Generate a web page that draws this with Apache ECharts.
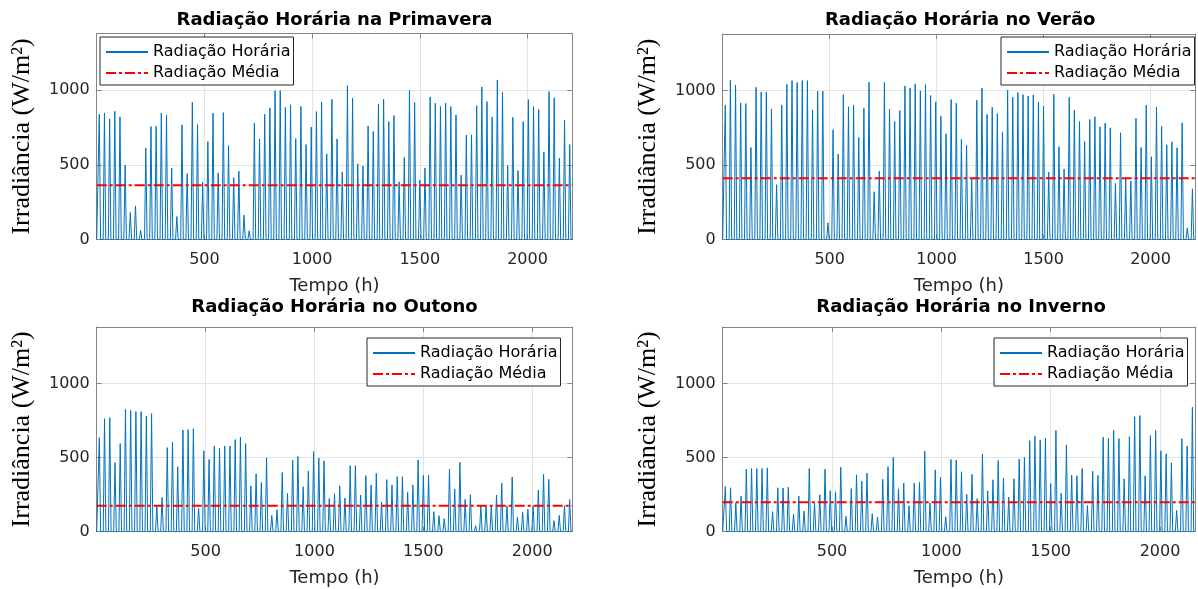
<!DOCTYPE html>
<html>
<head>
<meta charset="utf-8">
<script src="https://cdn.jsdelivr.net/npm/echarts@6/dist/echarts.min.js"></script>
<style>
  html, body { margin: 0; padding: 0; background: #fff; }
  #chart { width: 1198px; height: 589px; }
</style>
</head>
<body>
<div id="chart"></div>
<script>
// Panel titles
const titles = [
  'Radiação Horária na Primavera',
  'Radiação Horária no Verão',
  'Radiação Horária no Outono',
  'Radiação Horária no Inverno'
];

// Daily peak irradiance (W/m²), one value per day of each season
const springPeaks = [
  839, 848, 808, 859, 821, 498, 181, 225, 60, 614,
  757, 759, 848, 833, 478, 154, 768, 442, 920, 770,
  384, 656, 846, 446, 850, 629, 415, 458, 163, 58,
  779, 674, 839, 882, 996, 998, 886, 902, 676, 891,
  636, 754, 857, 922, 574, 938, 674, 453, 1031, 946,
  507, 493, 761, 725, 908, 940, 790, 830, 386, 549,
  998, 917, 397, 480, 955, 913, 891, 913, 891, 835,
  431, 699, 701, 897, 1022, 924, 821, 1069, 987, 496,
  819, 462, 790, 938, 891, 871, 587, 991, 949, 545,
  801, 636
];
const summerPeaks = [
  902, 1071, 1038, 917, 913, 618, 1022, 991, 991, 877,
  368, 902, 1042, 1067, 1054, 1067, 1067, 871, 996, 996,
  112, 737, 574, 973, 891, 902, 685, 882, 1056, 321,
  460, 1054, 875, 792, 866, 1031, 1018, 1045, 998, 1040,
  967, 924, 828, 710, 940, 915, 672, 632, 408, 935,
  1018, 839, 888, 846, 723, 1004, 955, 987, 973, 964,
  971, 922, 897, 453, 975, 623, 473, 955, 868, 792,
  658, 806, 824, 757, 781, 750, 377, 717, 406, 393,
  813, 618, 902, 556, 888, 759, 636, 656, 616, 783,
  78, 340
];
const autumnPeaks = [
  635, 762, 769, 466, 594, 825, 818, 809, 809, 780,
  796, 170, 231, 567, 605, 437, 686, 688, 695, 157,
  545, 487, 578, 565, 578, 578, 621, 637, 594, 309,
  390, 332, 498, 110, 148, 399, 258, 482, 507, 303,
  410, 540, 496, 478, 224, 256, 309, 227, 445, 445,
  247, 378, 315, 393, 200, 351, 315, 371, 371, 265,
  315, 483, 380, 380, 135, 108, 88, 422, 288, 467,
  218, 249, 40, 175, 175, 171, 247, 328, 175, 369,
  99, 130, 151, 175, 281, 387, 353, 74, 110, 175,
  216
];
const winterPeaks = [
  305, 296, 193, 240, 422, 426, 426, 426, 430, 135,
  296, 294, 300, 119, 240, 139, 426, 193, 249, 422,
  276, 269, 435, 103, 291, 383, 341, 395, 121, 99,
  354, 439, 502, 289, 327, 175, 327, 332, 543, 193,
  417, 368, 101, 487, 484, 404, 253, 386, 222, 525,
  276, 350, 480, 363, 233, 357, 489, 500, 614, 644,
  619, 630, 325, 682, 260, 585, 381, 377, 426, 177,
  408, 379, 637, 628, 684, 628, 357, 641, 776, 783,
  377, 648, 682, 545, 525, 464, 143, 628, 578, 839
];

// Seasonal mean irradiance (W/m²)
const meanValues = [364, 412, 175, 198];

// Length of each season in hours
const seasonHours = [2208, 2208, 2184, 2160];

// Axis ticks
const xTickStep = 500;
const yTickStep = 500;
const yMax = 1380;

const legendNames = ['Radiação Horária', 'Radiação Média'];
const xName = 'Tempo (h)';
const yName = 'Irradiância (W/m²)';

const peaks = [springPeaks, summerPeaks, autumnPeaks, winterPeaks];

// Hourly profile: zero overnight, rising from sunrise to the daily peak at noon
const SUNRISE = 6, NOON = 12, SUNSET = 18;
function hourlySeries(dayPeaks, totalHours) {
  const pts = [[0, 0]];
  dayPeaks.forEach((p, d) => {
    pts.push([24 * d + SUNRISE, 0]);
    pts.push([24 * d + NOON, p]);
    pts.push([24 * d + SUNSET, 0]);
  });
  pts.push([totalHours, 0]);
  return pts;
}

const SANS = 'DejaVu Sans, Verdana, sans-serif';
const SERIF = 'Liberation Serif, Times New Roman, serif';
const AXIS_COLOR = '#858585';
const TEXT_COLOR = '#262626';
const GRID_COLOR = '#e4e4e4';

const gridBoxes = [
  { left: 96.7, top: 33.5, width: 475.6, height: 206 },
  { left: 722.7, top: 34, width: 475, height: 205.5 },
  { left: 96.7, top: 327, width: 475.6, height: 204.7 },
  { left: 722.7, top: 327, width: 476.7, height: 204.7 }
];
const legendPos = [
  { left: 100, top: 37 },
  { left: 1001, top: 37 },
  { left: 367, top: 338 },
  { left: 994, top: 338 }
];
const titleTops = [11, 11, 298, 298];

const grid = gridBoxes.map(g => Object.assign({ containLabel: false }, g));

const xAxis = [];
const yAxis = [];
const series = [];
const title = [];
const legend = [];

gridBoxes.forEach((g, i) => {
  const N = seasonHours[i];
  xAxis.push({
    type: 'value', gridIndex: i, min: 0, max: N, interval: xTickStep,
    axisLine: { show: true, lineStyle: { color: AXIS_COLOR, width: 1 } },
    axisTick: { show: true, inside: true, length: 5, lineStyle: { color: AXIS_COLOR } },
    axisLabel: {
      show: true, margin: 12, fontSize: 16, color: TEXT_COLOR, fontFamily: SANS,
      formatter: v => (v === 0 || v === N) ? '' : String(v)
    },
    splitLine: { show: true, lineStyle: { color: GRID_COLOR, width: 1 } },
    name: xName, nameLocation: 'middle', nameGap: 38,
    nameTextStyle: { fontSize: 18, color: TEXT_COLOR, fontFamily: SANS }
  });
  yAxis.push({
    type: 'value', gridIndex: i, min: 0, max: yMax, interval: yTickStep,
    axisLine: { show: true, lineStyle: { color: AXIS_COLOR, width: 1 } },
    axisTick: { show: true, inside: true, length: 5, lineStyle: { color: AXIS_COLOR } },
    axisLabel: {
      show: true, margin: 7, fontSize: 16, color: TEXT_COLOR, fontFamily: SANS,
      formatter: v => (v === yMax) ? '' : String(v)
    },
    splitLine: { show: true, lineStyle: { color: GRID_COLOR, width: 1 } },
    name: yName, nameLocation: 'middle', nameRotate: 90, nameGap: 62,
    nameTextStyle: { fontSize: 26, color: '#000', fontFamily: SERIF }
  });
  title.push({
    text: titles[i],
    left: g.left + g.width / 2,
    top: titleTops[i],
    textAlign: 'center',
    padding: 0,
    textStyle: { fontSize: 18, fontWeight: 'bold', color: '#000', fontFamily: SANS }
  });
  legend.push({
    data: legendNames,
    orient: 'vertical',
    left: legendPos[i].left, top: legendPos[i].top,
    itemWidth: 42, itemHeight: 12, itemGap: 5,
    padding: [7, 3, 4, 5],
    backgroundColor: '#fff', borderColor: TEXT_COLOR, borderWidth: 1, borderRadius: 0,
    selectedMode: false,
    itemStyle: { opacity: 0, borderWidth: 0 },
    lineStyle: { width: 2 },
    textStyle: { fontSize: 16, color: '#000', fontFamily: SANS }
  });
  series.push({
    type: 'line', name: legendNames[0], xAxisIndex: i, yAxisIndex: i,
    data: hourlySeries(peaks[i], N),
    symbol: 'none', showSymbol: false, silent: true, z: 2,
    lineStyle: { color: '#0072BD', width: 1 },
    itemStyle: { color: '#0072BD' }
  });
  series.push({
    type: 'line', name: legendNames[1], xAxisIndex: i, yAxisIndex: i,
    data: [[0, meanValues[i]], [N, meanValues[i]]],
    symbol: 'none', showSymbol: false, silent: true, z: 3,
    lineStyle: { color: '#ff0000', width: 2, type: [10, 3, 3, 3] },
    itemStyle: { color: '#ff0000' }
  });
});

// Box edges on top and right with inward ticks
gridBoxes.forEach((g, i) => {
  const N = seasonHours[i];
  xAxis.push({
    type: 'value', gridIndex: i, position: 'top', min: 0, max: N, interval: xTickStep,
    axisLine: { show: true, onZero: false, lineStyle: { color: AXIS_COLOR, width: 1 } },
    axisTick: { show: true, inside: true, length: 5, lineStyle: { color: AXIS_COLOR } },
    axisLabel: { show: false }, splitLine: { show: false }
  });
  yAxis.push({
    type: 'value', gridIndex: i, position: 'right', min: 0, max: yMax, interval: yTickStep,
    axisLine: { show: true, onZero: false, lineStyle: { color: AXIS_COLOR, width: 1 } },
    axisTick: { show: true, inside: true, length: 5, lineStyle: { color: AXIS_COLOR } },
    axisLabel: { show: false }, splitLine: { show: false }
  });
});

const chart = echarts.init(document.getElementById('chart'), null, { renderer: 'canvas' });
chart.setOption({
  animation: false,
  backgroundColor: '#fff',
  title, legend, grid, xAxis, yAxis, series
});
</script>
</body>
</html>
